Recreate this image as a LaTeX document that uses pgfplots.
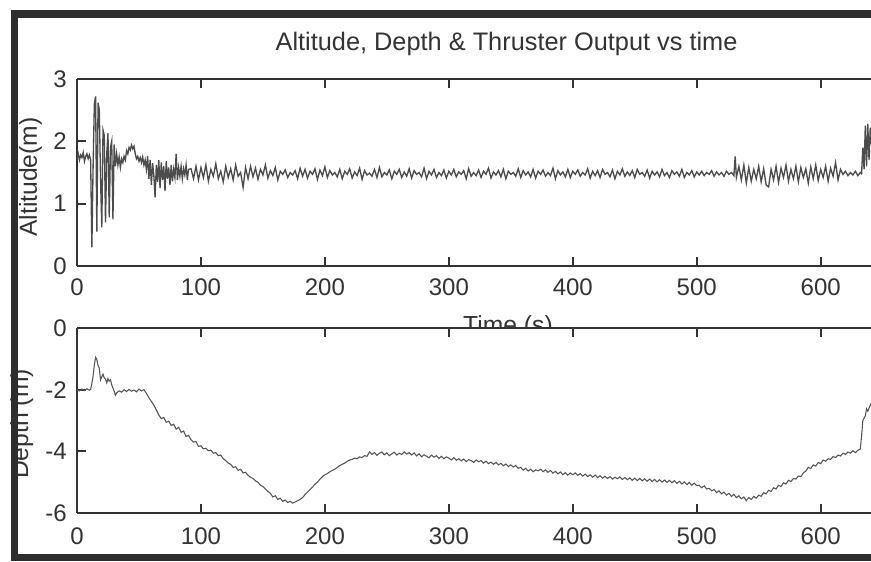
\documentclass[border=0pt]{standalone}
\usepackage{pgfplots}
\pgfplotsset{compat=1.18}
\usepackage{fontspec}
\setmainfont{Liberation Sans}
\definecolor{axgray}{HTML}{333333}
\definecolor{bordgray}{HTML}{2E2E2E}
\definecolor{linegray}{HTML}{4C4C4C}
\definecolor{linegrayb}{HTML}{555555}
\pgfplotsset{
  mystyle/.style={
    scale only axis,
    width=595.5pt,
    xmin=0, xmax=640.6,
    separate axis lines,
    axis x line*=box,
    axis y line*=left,
    tick align=inside,
    major tick length=6.75pt,
    xtick={0,100,200,300,400,500,600},
    axis line style={axgray, line width=1.3pt},
    every tick/.style={axgray, line width=1.3pt},
    /pgf/number format/assume math mode=true,
    tick label style={font=\fontsize{18}{20}\selectfont, text=axgray},
    yticklabel style={anchor=east, inner sep=0pt, xshift=-7.5pt},
    every axis y label/.style={rotate=90, anchor=base, font=\fontsize{18.5}{20}\selectfont, text=axgray},
    every axis x label/.style={anchor=base, font=\fontsize{18.5}{20}\selectfont, text=axgray},
    axis background/.style={fill=white},
  }
}
\begin{document}
\begin{tikzpicture}
\path[use as bounding box, fill=white] (0,0) rectangle (653.25pt,-420.75pt);
\begin{axis}[mystyle,
  at={(57.75pt,-199.5pt)}, anchor=south west,
  height=140.25pt,
  ymin=0, ymax=3, ytick={0,1,2,3},
  xticklabel style={anchor=north, inner sep=0pt, yshift=-9pt},
  title={Altitude, Depth \& Thruster Output vs time},
  title style={at={(axis description cs:0.541,1.1123)}, anchor=base, font=\fontsize{19}{21}\selectfont, text=axgray},
  xlabel={Time (s)},
  xlabel style={at={(axis description cs:0.5428,-0.3583)}},
  ylabel={Altitude(m)},
  ylabel style={at={(axis description cs:-0.0504,0.476)}},
]
\addplot[linegray, line width=1.0pt] coordinates {
(0,1.72)(1,1.80)(2,1.70)(3,1.78)(4,1.74)(5,1.82)(6,1.68)(7,1.76)(8,1.80)(9,1.72)
(10,1.78)(11,1.70)(12,0.30)(13,1.60)(14,2.60)(15,2.72)(16,0.55)(17,2.62)(18,2.50)(19,1.40)
(20,0.62)(21,2.18)(22,2.10)(23,0.70)(24,1.80)(25,2.13)(26,0.78)(27,1.90)(28,2.00)(29,0.75)
(30,1.95)(31,1.60)(32,1.80)(33,1.62)(34,1.75)(35,1.58)(36,1.72)(37,1.66)(38,1.76)(39,1.70)
(40,1.85)(41,1.80)(42,1.90)(43,1.86)(44,1.94)(45,1.88)(46,1.92)(47,1.80)(48,1.72)(49,1.76)
(50,1.68)(51,1.74)(52,1.66)(53,1.75)(54,1.62)(55,1.70)(56,1.55)(57,1.76)(58,1.40)(59,1.70)
(60,1.30)(61,1.65)(62,1.45)(63,1.10)(64,1.62)(65,1.35)(66,1.70)(67,1.25)(68,1.66)(69,1.38)
(70,1.60)(71,1.20)(72,1.68)(73,1.40)(74,1.58)(75,1.30)(76,1.62)(77,1.36)(78,1.55)(79,1.42)
(80,1.80)(81,1.38)(82,1.58)(83,1.44)(84,1.60)(85,1.40)(86,1.56)(87,1.46)(88,1.62)(89,1.38)
(90,1.55)
(92,1.56)(94,1.40)(96,1.60)(98,1.38)(100,1.58)(102,1.42)(104,1.62)(106,1.36)(108,1.55)(110,1.44)
(112,1.64)(114,1.40)(116,1.52)(118,1.35)(120,1.60)(122,1.42)(124,1.56)(126,1.38)(128,1.62)(130,1.44)
(132,1.50)(134,1.26)(136,1.58)(138,1.40)(140,1.60)
(142,1.43)(144,1.57)(146,1.39)(148,1.55)(150,1.46)(152,1.62)(154,1.41)(156,1.53)(158,1.45)(160,1.58)
(162,1.38)(164,1.52)(166,1.47)(168,1.54)(170,1.42)(172,1.50)(174,1.46)(176,1.53)(178,1.40)(180,1.57)
(182,1.44)(184,1.55)(186,1.41)(188,1.52)(190,1.47)(192,1.56)(194,1.39)(196,1.54)(198,1.45)(200,1.59)
(202,1.42)(204,1.53)(206,1.46)(208,1.50)(210,1.43)(212,1.55)(214,1.40)(216,1.52)(218,1.47)(220,1.56)
(222,1.41)(224,1.51)(226,1.45)(228,1.57)(230,1.39)(232,1.53)(234,1.46)(236,1.49)(238,1.44)(240,1.55)
(242,1.42)(244,1.58)(246,1.43)(248,1.50)(250,1.46)(252,1.54)(254,1.40)(256,1.52)(258,1.47)(260,1.55)
(262,1.42)(264,1.51)(266,1.44)(268,1.56)(270,1.41)(272,1.53)(274,1.47)(276,1.50)(278,1.43)(280,1.57)
(282,1.40)(284,1.52)(286,1.46)(288,1.55)(290,1.42)(292,1.50)(294,1.45)(296,1.54)(298,1.41)(300,1.52)
(302,1.46)(304,1.55)(306,1.43)(308,1.51)(310,1.47)(312,1.53)(314,1.40)(316,1.56)(318,1.44)(320,1.50)
(322,1.45)(324,1.54)(326,1.42)(328,1.52)(330,1.47)(332,1.57)(334,1.41)(336,1.51)(338,1.46)(340,1.53)
(342,1.43)(344,1.55)(346,1.40)(348,1.52)(350,1.47)(352,1.50)(354,1.44)(356,1.56)(358,1.42)(360,1.53)
(362,1.46)(364,1.51)(366,1.43)(368,1.55)(370,1.41)(372,1.52)(374,1.47)(376,1.54)(378,1.44)(380,1.50)
(382,1.45)(384,1.57)(386,1.40)(388,1.53)(390,1.46)(392,1.51)(394,1.43)(396,1.55)(398,1.42)(400,1.52)
(402,1.47)(404,1.54)(406,1.44)(408,1.50)(410,1.46)(412,1.56)(414,1.41)(416,1.52)(418,1.45)(420,1.53)
(422,1.42)(424,1.55)(426,1.47)(428,1.50)(430,1.43)(432,1.54)(434,1.40)(436,1.52)(438,1.46)(440,1.56)
(442,1.44)(444,1.51)(446,1.45)(448,1.53)(450,1.42)(452,1.55)(454,1.47)(456,1.50)(458,1.44)(460,1.54)
(462,1.41)(464,1.52)(466,1.46)(468,1.51)(470,1.43)(472,1.55)(474,1.45)(476,1.50)(478,1.42)(480,1.53)
(482,1.47)(484,1.51)(486,1.44)(488,1.55)(490,1.42)(492,1.50)(494,1.46)(496,1.53)(498,1.43)(500,1.51)
(502,1.46)(504,1.52)(506,1.45)(508,1.50)(510,1.47)(512,1.53)(514,1.44)(516,1.51)(518,1.46)(520,1.50)
(522,1.44)(524,1.52)(526,1.47)(528,1.50)(530,1.45)(531,1.76)(532,1.42)(534,1.60)(536,1.38)(538,1.62)
(540,1.33)(542,1.58)(544,1.36)(546,1.55)(548,1.40)(550,1.60)(552,1.35)(554,1.56)(556,1.30)(558,1.27)
(560,1.55)(562,1.38)(564,1.60)(566,1.34)(568,1.57)(570,1.42)(572,1.62)(574,1.36)(576,1.55)(578,1.40)
(580,1.60)(582,1.35)(584,1.58)(586,1.42)(588,1.56)(590,1.33)(592,1.59)(594,1.40)(596,1.62)(598,1.37)
(600,1.55)(602,1.42)(604,1.60)(606,1.36)(608,1.57)(610,1.44)(612,1.66)(614,1.38)(616,1.55)(618,1.47)
(620,1.52)(622,1.45)(624,1.50)(626,1.46)(628,1.52)(630,1.45)(632,1.50)(633,1.48)(634,1.90)(635,1.55)
(636,2.25)(637,1.60)(638,2.28)(639,1.70)(640,2.22)(641,1.95)
};
\end{axis}
\begin{axis}[mystyle,
  at={(57.75pt,-384.75pt)}, anchor=south west,
  height=138.75pt,
  ymin=-6, ymax=0, ytick={-6,-4,-2,0},
  xticklabel style={anchor=north, inner sep=0pt, yshift=-10.5pt},
  ylabel={Depth (m)},
  ylabel style={at={(axis description cs:-0.0617,0.481)}},
]
\addplot[linegrayb, line width=0.8pt] coordinates {
(0,-2.00)(2,-2.04)(4,-1.98)(6,-2.03)(8,-1.97)(10,-2.02)(11,-1.99)(12,-1.80)(13,-1.55)(14,-1.20)
(15,-0.95)(16,-1.02)(17,-1.22)(18,-1.30)(19,-1.68)(20,-1.58)(21,-1.50)(22,-1.62)(23,-1.66)(24,-1.78)
(25,-1.64)(26,-1.72)(27,-1.68)(28,-1.84)(29,-1.95)(30,-2.05)(31,-2.18)(32,-2.10)(34,-2.04)(36,-2.08)
(38,-2.00)(40,-2.06)(42,-1.99)(44,-2.05)(46,-2.01)(48,-2.07)(50,-1.98)(52,-2.04)(54,-2.00)(56,-2.12)
(58,-2.26)(60,-2.38)(62,-2.50)(64,-2.66)(66,-2.82)(68,-2.94)(70,-2.90)(72,-3.06)(74,-3.02)(76,-3.16)
(78,-3.12)(80,-3.28)(82,-3.22)(84,-3.38)(86,-3.34)(88,-3.52)(90,-3.48)(92,-3.62)(94,-3.70)(96,-3.68)
(98,-3.84)(100,-3.82)(102,-3.92)(104,-3.90)(106,-3.98)(108,-3.96)(110,-4.06)(112,-4.04)(114,-4.14)(116,-4.12)
(118,-4.24)(120,-4.30)(122,-4.38)(124,-4.42)(126,-4.52)(128,-4.50)(130,-4.62)(132,-4.58)(134,-4.70)(136,-4.68)
(138,-4.78)(140,-4.84)(142,-4.88)(144,-4.96)(146,-5.00)(148,-5.10)(150,-5.14)(152,-5.22)(154,-5.30)(156,-5.36)
(158,-5.48)(160,-5.44)(162,-5.56)(164,-5.52)(166,-5.62)(168,-5.58)(170,-5.66)(172,-5.62)(174,-5.68)(176,-5.64)
(178,-5.60)(180,-5.56)(182,-5.50)(184,-5.40)(186,-5.32)(188,-5.24)(190,-5.16)(192,-5.06)(194,-5.00)(196,-4.90)
(198,-4.82)(200,-4.76)(202,-4.72)(204,-4.66)(206,-4.62)(208,-4.58)(210,-4.52)(212,-4.46)(214,-4.42)(216,-4.38)
(218,-4.32)(220,-4.28)(222,-4.26)(224,-4.22)(226,-4.24)(228,-4.18)(230,-4.20)(232,-4.14)(234,-4.16)
(236,-4.02)(238,-4.10)(240,-4.04)(242,-4.13)(244,-4.06)(246,-4.02)(248,-4.11)(250,-4.05)(252,-4.14)(254,-4.08)
(256,-4.03)(258,-4.12)(260,-4.06)(262,-4.10)(264,-4.02)(266,-4.09)(268,-4.04)(270,-4.12)(272,-4.05)(274,-4.15)
(276,-4.08)(278,-4.18)(280,-4.11)(282,-4.16)(284,-4.21)(286,-4.12)(288,-4.19)(290,-4.14)(292,-4.23)(294,-4.16)
(296,-4.24)(298,-4.18)(300,-4.22)(302,-4.28)(304,-4.20)(306,-4.29)(308,-4.24)(310,-4.31)(312,-4.25)(314,-4.33)
(316,-4.27)(318,-4.30)(320,-4.36)(322,-4.28)(324,-4.34)(326,-4.30)(328,-4.38)(330,-4.32)(332,-4.40)(334,-4.35)
(336,-4.42)(338,-4.36)(340,-4.44)(342,-4.39)(344,-4.47)(346,-4.41)(348,-4.49)(350,-4.44)(352,-4.51)(354,-4.46)
(356,-4.55)(358,-4.52)(360,-4.61)(362,-4.55)(364,-4.64)(366,-4.58)(368,-4.66)(370,-4.60)(372,-4.63)(374,-4.58)
(376,-4.66)(378,-4.60)(380,-4.68)(382,-4.62)(384,-4.71)(386,-4.65)(388,-4.73)(390,-4.67)(392,-4.76)(394,-4.69)
(396,-4.77)(398,-4.70)(400,-4.76)(402,-4.70)(404,-4.78)(406,-4.72)(408,-4.80)(410,-4.74)(412,-4.82)(414,-4.76)
(416,-4.84)(418,-4.77)(420,-4.85)(422,-4.79)(424,-4.87)(426,-4.81)(428,-4.88)(430,-4.82)(432,-4.90)(434,-4.84)
(436,-4.89)(438,-4.83)(440,-4.91)(442,-4.85)(444,-4.92)(446,-4.86)(448,-4.94)(450,-4.87)(452,-4.95)(454,-4.88)
(456,-4.96)(458,-4.89)(460,-4.97)(462,-4.90)(464,-4.98)(466,-4.91)(468,-4.99)(470,-4.92)(472,-5.00)(474,-4.93)
(476,-5.01)(478,-4.94)(480,-5.02)(482,-4.95)(484,-5.04)(486,-4.97)(488,-5.06)(490,-4.99)(492,-5.08)(494,-5.01)
(496,-5.10)(498,-5.03)(500,-5.11)
(502,-5.10)(504,-5.18)(506,-5.12)(508,-5.22)(510,-5.20)(512,-5.28)(514,-5.24)(516,-5.34)(518,-5.28)(520,-5.38)
(522,-5.32)(524,-5.42)(526,-5.36)(528,-5.46)(530,-5.40)(532,-5.50)(534,-5.44)(536,-5.54)(538,-5.48)(540,-5.60)
(542,-5.50)(544,-5.56)(546,-5.46)(548,-5.52)(550,-5.42)(552,-5.46)(554,-5.34)(556,-5.38)(558,-5.26)(560,-5.30)
(562,-5.18)(564,-5.22)(566,-5.10)(568,-5.14)(570,-5.02)(572,-5.06)(574,-4.94)(576,-4.98)(578,-4.88)(580,-4.90)
(582,-4.80)(584,-4.82)(586,-4.70)(588,-4.64)(590,-4.52)(592,-4.56)(594,-4.44)(596,-4.48)(598,-4.36)(600,-4.40)
(602,-4.28)(604,-4.32)(606,-4.24)(608,-4.26)(610,-4.17)(612,-4.20)(614,-4.12)(616,-4.15)(618,-4.06)(620,-4.10)
(622,-4.02)(624,-4.06)(626,-3.98)(628,-4.04)(630,-3.97)(632,-3.92)(633,-3.50)(634,-3.00)
(636,-2.85)(637,-2.62)(638,-2.70)(640,-2.50)(641,-2.42)
};
\end{axis}
% window frame of the screenshot (left, top and bottom edges)
\fill[bordgray] (8.25pt,-7.5pt) rectangle (13.5pt,-420.75pt);
\fill[bordgray] (8.25pt,-7.5pt) rectangle (653.25pt,-13.5pt);
\fill[bordgray] (8.25pt,-415.5pt) rectangle (653.25pt,-420.75pt);
\end{tikzpicture}
\end{document}
